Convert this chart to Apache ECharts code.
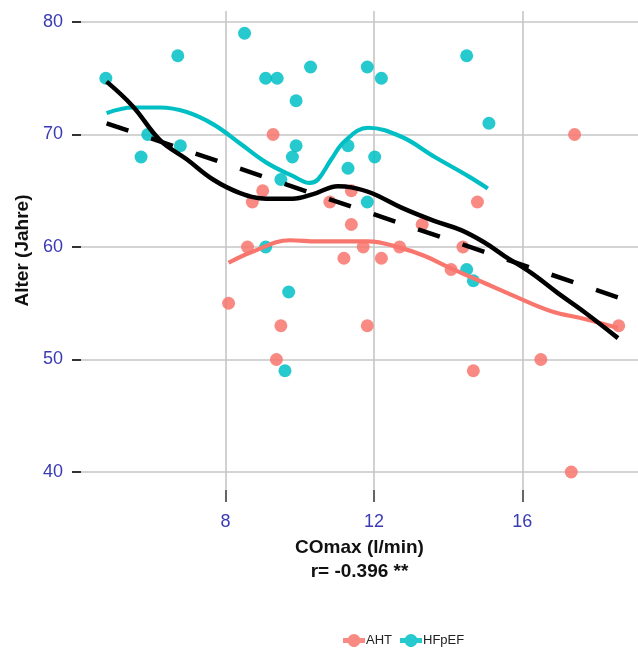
<!DOCTYPE html>
<html>
<head>
<meta charset="utf-8">
<script src="https://cdn.jsdelivr.net/npm/echarts@6/dist/echarts.min.js"></script>
<style>
  html, body { margin: 0; padding: 0; background: #fff; }
  #chart { width: 638px; height: 651px; }
</style>
</head>
<body>
<div id="chart"></div>
<script>
// COmax (l/min) vs. Alter (Jahre) for the two groups
const ahtCOmax = [9.28, 9.0, 8.72, 8.59, 8.08, 9.49, 9.37, 11.39, 10.81, 11.39, 11.19, 11.71,
                  12.2, 11.82, 12.69, 13.3, 14.08, 14.4, 14.79, 14.68, 16.5, 17.41, 17.32, 18.6];
const ahtAlter = [70, 65, 64, 60, 55, 53, 50, 65, 64, 62, 59, 60,
                  59, 53, 60, 62, 58, 60, 64, 49, 50, 70, 40, 53];

const hfpefCOmax = [4.77, 5.9, 5.72, 6.71, 6.78, 8.51, 9.08, 9.39, 9.9, 10.29, 9.9, 9.8, 9.49,
                    9.08, 11.82, 12.2, 14.5, 15.1, 11.3, 12.02, 11.3, 11.82, 9.7, 9.6, 14.5, 14.68];
const hfpefAlter = [75, 70, 68, 77, 69, 79, 75, 75, 73, 76, 69, 68, 66,
                    60, 76, 75, 77, 71, 69, 68, 67, 64, 56, 49, 58, 57];

// Smoothed trend curves (LOESS) and linear fit
const loessAllX = [4.79, 5.5, 6.23, 6.95, 7.66, 8.39, 9.1, 9.8, 10.36, 11.03, 11.39, 11.93,
                   12.74, 13.64, 14.35, 14.98, 15.52, 16.24, 16.96, 17.68, 18.58];
const loessAllY = [74.7, 72.5, 69.5, 67.8, 66.0, 64.8, 64.3, 64.3, 64.7, 65.4, 65.3, 64.8,
                   63.5, 62.3, 61.5, 60.4, 59.2, 57.7, 55.9, 54.2, 51.9];

const loessHfpefX = [4.79, 5.5, 6.23, 6.95, 7.67, 8.39, 9.1, 9.82, 10.27, 10.49, 10.85, 11.21,
                     11.84, 12.74, 13.64, 14.54, 15.07];
const loessHfpefY = [71.9, 72.4, 72.4, 72.0, 70.9, 69.2, 67.5, 66.3, 65.7, 66.0, 67.8, 69.4,
                     70.6, 69.8, 68.0, 66.3, 65.2];

const loessAhtX = [8.08, 8.74, 9.73, 10.49, 11.84, 12.74, 13.37, 14.08, 14.98, 15.88, 16.78, 17.68, 18.58];
const loessAhtY = [58.6, 59.6, 60.6, 60.5, 60.5, 59.9, 59.2, 58.1, 56.8, 55.5, 54.3, 53.6, 52.8];

const linFitX = [4.79, 18.6];
const linFitY = [71.0, 55.5];

const xTicks = [8, 12, 16];
const yTicks = [40, 50, 60, 70, 80];
const xTitle = 'COmax (l/min)';
const correlationText = 'r= -0.396 **';

const pairs = (xs, ys) => xs.map((x, i) => [x, ys[i]]);

const RED = '#F8766D';
const TEAL = '#00BFC4';
const FONT = '"Liberation Sans", Arial, sans-serif';
const TICK_COLOR = '#3a3ab4';
// legend key: thick line segment with a dot in the middle
const KEY_ICON = 'path://M0,4.5 L5,4.5 A6.5,6.5 0 0 1 17,4.5 L22,4.5 L22,9.5 L17,9.5 A6.5,6.5 0 0 1 5,9.5 L0,9.5 Z';

const chart = echarts.init(document.getElementById('chart'), null, { renderer: 'canvas' });

const gridLine = { show: true, lineStyle: { color: '#c6c6c6', width: 1.6 } };

chart.setOption({
  animation: false,
  backgroundColor: '#ffffff',
  textStyle: { fontFamily: FONT },
  grid: { left: 81, right: 0, top: 11, bottom: 161 },
  legend: {
    data: ['AHT', 'HFpEF'],
    left: 338,
    top: 629,
    icon: KEY_ICON,
    itemWidth: 22,
    itemHeight: 14,
    itemGap: 8,
    textStyle: { fontFamily: FONT, fontSize: 13, color: '#222', padding: [0, 0, 0, -4] }
  },
  xAxis: {
    type: 'value',
    min: 4.1,
    max: 19.12,
    name: xTitle + '\n' + correlationText,
    nameLocation: 'middle',
    nameGap: 45,
    nameTextStyle: { fontFamily: FONT, fontSize: 19, fontWeight: 'bold', color: '#111', lineHeight: 24 },
    axisLine: { show: false },
    axisTick: { show: true, customValues: xTicks, length: 12, lineStyle: { color: '#333', width: 1.5 } },
    axisLabel: { customValues: xTicks, margin: 23, fontSize: 18, color: TICK_COLOR, fontFamily: FONT },
    splitLine: gridLine
  },
  yAxis: {
    type: 'value',
    min: 38.4,
    max: 80.98,
    name: 'Alter (Jahre)',
    nameLocation: 'middle',
    nameGap: 48,
    nameTextStyle: { fontFamily: FONT, fontSize: 19, fontWeight: 'bold', color: '#111' },
    axisLine: { show: false },
    axisTick: { show: true, customValues: yTicks, length: 9, lineStyle: { color: '#333', width: 2 } },
    axisLabel: { customValues: yTicks, margin: 18, fontSize: 18, color: TICK_COLOR, fontFamily: FONT },
    splitLine: gridLine
  },
  series: [
    {
      name: 'AHT',
      type: 'scatter',
      data: pairs(ahtCOmax, ahtAlter),
      symbolSize: 13,
      itemStyle: { color: RED, opacity: 0.85 },
      z: 2
    },
    {
      name: 'HFpEF',
      type: 'scatter',
      data: pairs(hfpefCOmax, hfpefAlter),
      symbolSize: 13,
      itemStyle: { color: TEAL, opacity: 0.85 },
      z: 2
    },
    {
      name: 'LOESS AHT',
      type: 'line',
      data: pairs(loessAhtX, loessAhtY),
      smooth: 0.4,
      showSymbol: false,
      lineStyle: { color: RED, width: 4.2 },
      z: 3
    },
    {
      name: 'LOESS HFpEF',
      type: 'line',
      data: pairs(loessHfpefX, loessHfpefY),
      smooth: 0.4,
      showSymbol: false,
      lineStyle: { color: TEAL, width: 4.2 },
      z: 3
    },
    {
      name: 'LOESS gesamt',
      type: 'line',
      data: pairs(loessAllX, loessAllY),
      smooth: 0.4,
      showSymbol: false,
      lineStyle: { color: '#000', width: 4.5 },
      z: 4
    },
    {
      name: 'Lineare Regression',
      type: 'line',
      data: pairs(linFitX, linFitY),
      showSymbol: false,
      lineStyle: { color: '#000', width: 4.5, type: [23, 24] },
      z: 4
    }
  ]
});
</script>
</body>
</html>
